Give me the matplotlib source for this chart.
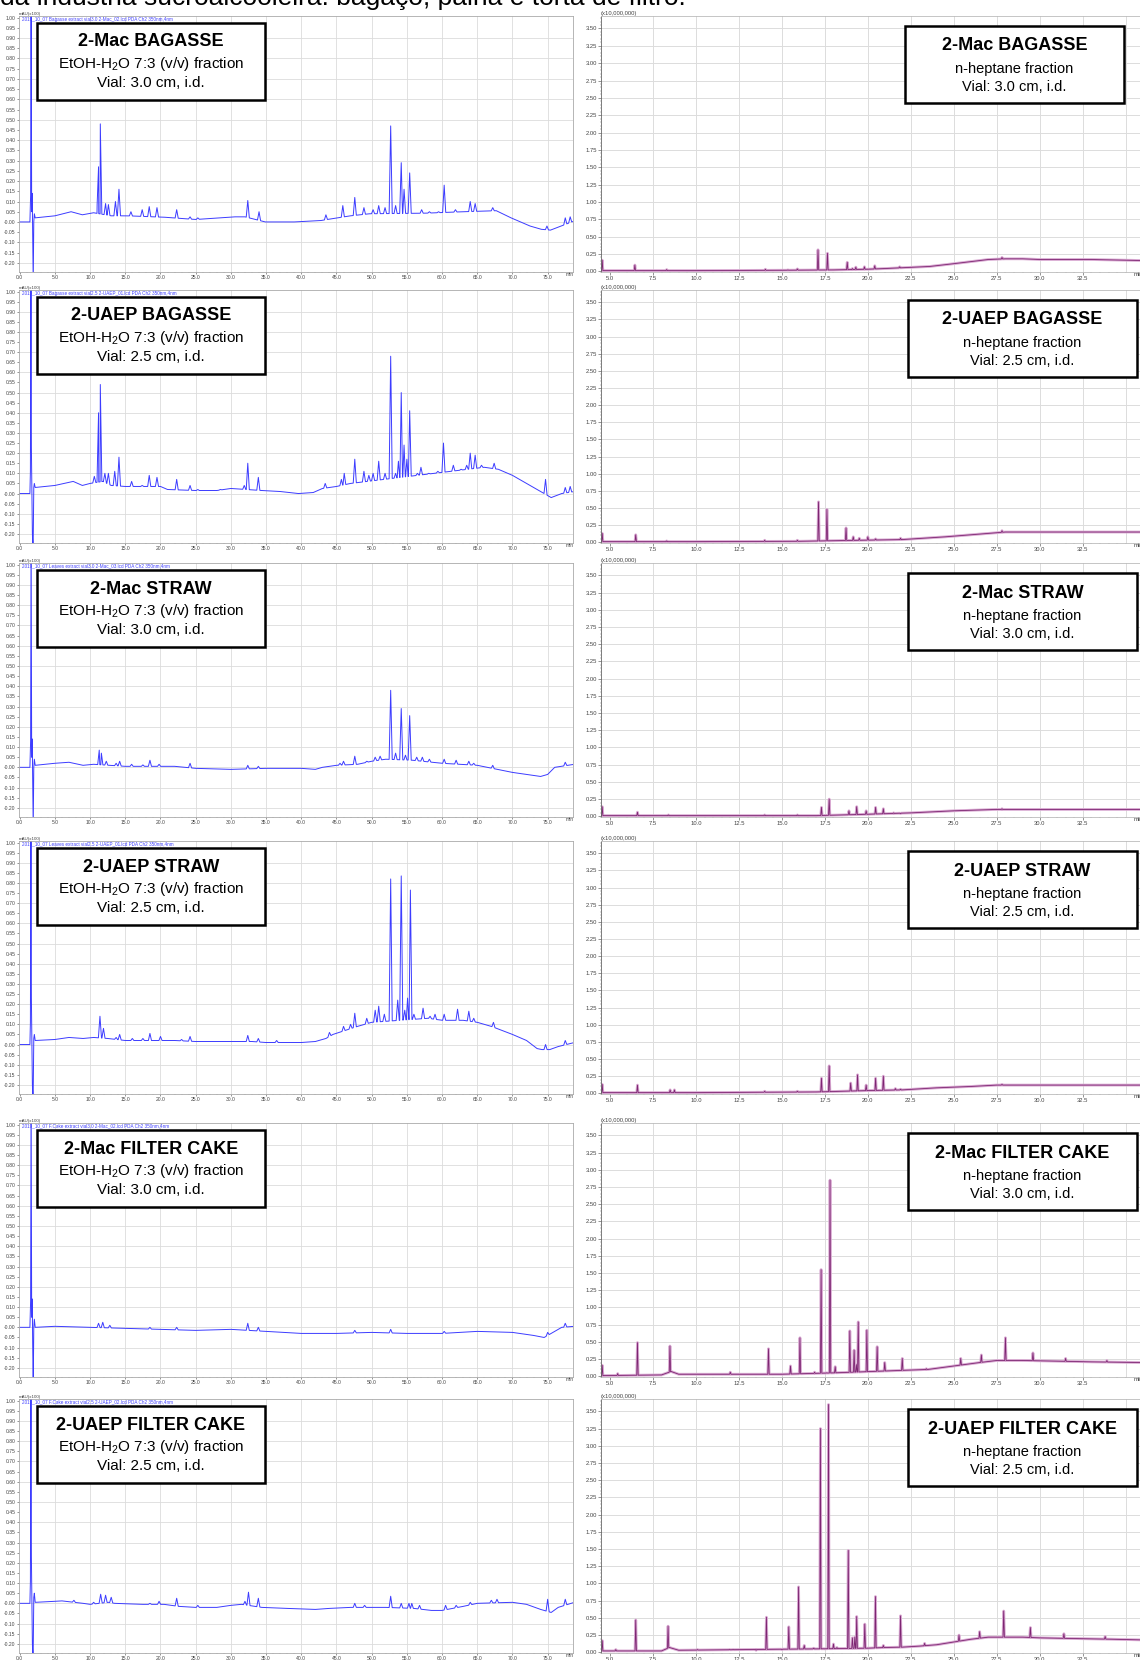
import numpy as np
import matplotlib
matplotlib.use("Agg")
import matplotlib.pyplot as plt
from matplotlib.patches import Rectangle
from matplotlib.ticker import MultipleLocator

plt.rcParams['font.family'] = ['Liberation Sans', 'DejaVu Sans']
plt.rcParams['mathtext.fontset'] = 'custom'
plt.rcParams['mathtext.rm'] = 'Liberation Sans'
plt.rcParams['mathtext.default'] = 'regular'

# ---- labels ----
samples = ["2-Mac BAGASSE", "2-UAEP BAGASSE", "2-Mac STRAW",
           "2-UAEP STRAW", "2-Mac FILTER CAKE", "2-UAEP FILTER CAKE"]
vials = ["3.0", "2.5", "3.0", "2.5", "3.0", "2.5"]
lc_files = ["2019_10_07 Bagasse extract vial3.0 2-Mac_02.lcd PDA Ch2 350nm,4nm",
            "2019_10_07 Bagasse extract vial2.5 2-UAEP_01.lcd PDA Ch2 350nm,4nm",
            "2019_10_07 Leaves extract vial3.0 2-Mac_03.lcd PDA Ch2 350nm,4nm",
            "2019_10_07 Leaves extract vial2.5 2-UAEP_01.lcd PDA Ch2 350nm,4nm",
            "2019_10_07 F.Cake extract vial3.0 2-Mac_02.lcd PDA Ch2 350nm,4nm",
            "2019_10_07 F.Cake extract vial2.5 2-UAEP_02.lcd PDA Ch2 350nm,4nm"]
lc_xticks = [0.0, 5.0, 10.0, 15.0, 20.0, 25.0, 30.0, 35.0, 40.0, 45.0, 50.0,
             55.0, 60.0, 65.0, 70.0, 75.0]
gc_xticks = [5.0, 7.5, 10.0, 12.5, 15.0, 17.5, 20.0, 22.5, 25.0, 27.5, 30.0, 32.5]

# ---- HPLC (left column): baseline knots (min, mAU x100) and peak tops ----
lc_front_1 = [(0, 0.0), (1.45, 0.0), (1.55, 0.13), (1.62, 1.2), (1.70, 0.05), (1.78, 0.14),
              (1.85, -0.10), (1.92, -0.30), (2.00, 0.0), (2.08, 0.04)]
lc_front_2 = [(0, 0.0), (1.45, 0.0), (1.52, 0.11), (1.60, 1.2), (1.66, 0.23), (1.72, 0.05),
              (1.80, -0.20), (1.90, -0.30), (2.00, 0.03), (2.08, 0.05)]

lc_bag_mac_base = [(2.2, 0.02), (5.0, 0.03), (7.3, 0.05), (8.9, 0.035), (10.5, 0.045), (12.0, 0.06),
                   (13.0, 0.03), (15.3, 0.03), (20.6, 0.023), (25.0, 0.012), (28.5, 0.015),
                   (30.6, 0.025), (32.0, 0.025), (34.9, 0.0), (39.0, 0.0), (42.8, 0.007),
                   (44.4, 0.016), (47.0, 0.03), (49.7, 0.04), (57.7, 0.043), (63.0, 0.05),
                   (67.7, 0.055), (69.8, 0.02), (72.5, -0.02), (74.1, -0.036), (75.4, -0.04),
                   (77.3, 0.005), (78.8, 0.005)]
lc_bag_mac_peaks = [(11.0, 0.085), (11.2, 0.27), (11.45, 0.48), (12.2, 0.09), (12.6, 0.085),
                    (13.6, 0.10), (14.1, 0.16), (15.8, 0.05), (17.4, 0.06), (18.4, 0.075),
                    (19.5, 0.07), (22.3, 0.06), (24.2, 0.025), (25.3, 0.02), (28.5, 0.02),
                    (32.4, 0.105), (34.0, 0.05), (43.5, 0.035), (45.9, 0.08), (47.6, 0.12),
                    (48.9, 0.07), (50.2, 0.06), (51.0, 0.08), (51.9, 0.07), (52.7, 0.47),
                    (53.4, 0.08), (54.2, 0.29), (54.6, 0.16), (55.4, 0.24), (57.1, 0.06),
                    (58.2, 0.05), (59.5, 0.05), (60.3, 0.18), (61.9, 0.06), (64.0, 0.10),
                    (64.7, 0.09), (67.2, 0.07), (74.9, -0.02), (77.5, 0.02), (78.2, 0.025)]

lc_bag_uaep_base = [(2.2, 0.03), (5.0, 0.04), (7.6, 0.06), (8.9, 0.04), (10.0, 0.05), (11.8, 0.06),
                    (13.0, 0.04), (15.0, 0.035), (17.0, 0.035), (20.0, 0.035), (21.0, 0.02),
                    (25.0, 0.015), (28.0, 0.015), (30.0, 0.025), (32.0, 0.03), (34.4, 0.015),
                    (37.0, 0.01), (39.6, 0.0), (41.7, 0.005), (43.0, 0.025), (45.0, 0.035),
                    (47.0, 0.05), (50.0, 0.07), (55.0, 0.09), (60.0, 0.10), (64.0, 0.12),
                    (66.0, 0.13), (68.0, 0.12), (70.0, 0.09), (72.0, 0.05), (74.0, 0.01),
                    (75.5, -0.02), (77.0, 0.0), (78.8, 0.01)]
lc_bag_uaep_peaks = [(10.6, 0.085), (11.2, 0.40), (11.45, 0.54), (12.1, 0.10), (12.6, 0.10),
                     (13.5, 0.11), (14.1, 0.18), (15.9, 0.06), (17.4, 0.04), (18.4, 0.09),
                     (19.5, 0.08), (22.3, 0.07), (24.2, 0.04), (25.3, 0.02), (28.5, 0.02),
                     (31.9, 0.04), (32.4, 0.15), (33.9, 0.08), (43.4, 0.05), (45.7, 0.07),
                     (46.1, 0.10), (47.6, 0.17), (48.9, 0.11), (49.6, 0.09), (50.2, 0.10),
                     (51.0, 0.16), (51.9, 0.10), (52.7, 0.68), (53.4, 0.10), (53.8, 0.16),
                     (54.2, 0.50), (54.6, 0.24), (55.0, 0.17), (55.4, 0.41), (56.5, 0.10),
                     (57.0, 0.13), (58.1, 0.10), (59.4, 0.11), (60.2, 0.25), (61.6, 0.14),
                     (62.7, 0.12), (63.5, 0.14), (64.0, 0.20), (64.7, 0.19), (65.6, 0.14),
                     (67.4, 0.15), (74.7, 0.07), (77.5, 0.03), (78.2, 0.035)]

lc_str_mac_base = [(2.2, 0.01), (5.0, 0.02), (7.0, 0.025), (9.0, 0.01), (10.5, 0.015), (12.5, 0.02),
                   (15.0, 0.005), (17.5, 0.01), (19.8, 0.01), (22.0, 0.005), (25.0, -0.005),
                   (30.0, -0.01), (35.0, -0.005), (40.0, -0.005), (42.0, -0.01), (43.0, 0.0),
                   (45.0, 0.01), (48.0, 0.015), (50.0, 0.03), (52.0, 0.04), (55.8, 0.035),
                   (60.0, 0.02), (65.0, 0.01), (70.0, -0.025), (73.0, -0.04), (74.0, -0.045),
                   (75.0, -0.035), (76.0, 0.0), (77.5, 0.01), (78.8, 0.015)]
lc_str_mac_peaks = [(11.3, 0.085), (11.6, 0.07), (12.3, 0.03), (13.7, 0.02), (14.2, 0.03),
                    (15.9, 0.015), (17.5, 0.012), (18.5, 0.035), (19.8, 0.015), (24.2, 0.02),
                    (32.4, 0.01), (33.9, 0.005), (45.5, 0.02), (46.0, 0.03), (47.6, 0.055),
                    (49.3, 0.03), (50.5, 0.05), (51.2, 0.055), (52.7, 0.38), (53.4, 0.07),
                    (54.2, 0.29), (54.8, 0.06), (55.4, 0.255), (56.4, 0.05), (57.2, 0.05),
                    (58.2, 0.04), (60.3, 0.04), (62.0, 0.035), (63.8, 0.03), (64.5, 0.02),
                    (67.2, 0.01), (77.5, 0.025)]

lc_str_uaep_base = [(2.2, 0.02), (5.0, 0.025), (7.0, 0.035), (9.0, 0.03), (10.5, 0.035),
                    (12.5, 0.03), (15.0, 0.02), (17.5, 0.03), (20.0, 0.03), (22.0, 0.02),
                    (25.0, 0.015), (30.0, 0.015), (33.0, 0.015), (35.0, 0.01), (40.0, 0.01),
                    (42.0, 0.015), (43.5, 0.03), (44.5, 0.05), (46.0, 0.07), (48.0, 0.09),
                    (50.0, 0.11), (52.0, 0.13), (55.8, 0.14), (58.0, 0.13), (60.0, 0.12),
                    (63.0, 0.12), (65.0, 0.11), (67.0, 0.09), (70.0, 0.05), (72.0, 0.02),
                    (73.5, -0.02), (74.2, -0.025), (75.3, -0.025), (76.5, -0.01),
                    (77.5, 0.005), (78.8, 0.01)]
lc_str_uaep_peaks = [(11.4, 0.14), (11.9, 0.08), (13.7, 0.035), (14.2, 0.05), (16.0, 0.03),
                     (17.5, 0.03), (18.5, 0.055), (20.0, 0.04), (23.0, 0.025), (24.2, 0.04),
                     (32.4, 0.045), (33.9, 0.03), (36.5, 0.02), (44.0, 0.06), (46.0, 0.09),
                     (47.0, 0.10), (47.6, 0.155), (49.3, 0.13), (50.5, 0.17), (51.0, 0.19),
                     (51.8, 0.15), (52.7, 0.82), (53.7, 0.22), (54.2, 0.835), (54.7, 0.17),
                     (55.1, 0.23), (55.5, 0.765), (56.0, 0.15), (57.3, 0.18), (58.3, 0.14),
                     (59.0, 0.15), (60.3, 0.15), (61.0, 0.12), (62.2, 0.175), (63.8, 0.165),
                     (64.5, 0.13), (67.3, 0.11), (74.7, 0.0), (77.5, 0.02)]

lc_cake_mac_base = [(2.2, 0.0), (5.0, 0.005), (10.0, 0.0), (15.0, -0.005), (20.0, -0.01),
                    (25.0, -0.015), (30.0, -0.01), (34.0, -0.02), (40.0, -0.03), (45.0, -0.03),
                    (50.0, -0.025), (55.0, -0.03), (60.0, -0.03), (65.0, -0.02), (70.0, -0.025),
                    (73.0, -0.04), (74.5, -0.05), (75.5, -0.03), (77.0, 0.0), (78.8, 0.005)]
lc_cake_mac_peaks = [(11.2, 0.02), (11.8, 0.025), (12.8, 0.01), (18.5, 0.0), (22.3, 0.0),
                     (32.4, 0.02), (33.9, 0.0), (47.6, -0.015), (52.7, -0.01), (60.3, -0.02),
                     (75.0, -0.025), (77.5, 0.02)]

lc_cake_uaep_base = [(2.2, 0.005), (5.0, 0.01), (6.0, 0.012), (9.0, 0.0), (10.0, -0.005),
                     (12.6, 0.005), (13.5, 0.0), (15.0, -0.002), (17.5, -0.005), (20.5, -0.005),
                     (22.6, -0.015), (25.0, -0.02), (28.0, -0.02), (30.0, -0.01), (31.5, -0.005),
                     (34.4, -0.02), (38.0, -0.025), (42.0, -0.03), (44.0, -0.025), (47.0, -0.02),
                     (52.0, -0.02), (56.0, -0.025), (58.5, -0.035), (60.0, -0.035),
                     (63.0, -0.015), (65.0, 0.0), (67.0, 0.01), (70.0, 0.005), (72.0, -0.005),
                     (74.0, -0.03), (75.5, -0.045), (76.5, -0.02), (77.5, 0.005), (78.8, 0.005)]
lc_cake_uaep_peaks = [(7.7, 0.015), (10.5, 0.005), (11.5, 0.045), (12.2, 0.04), (13.0, 0.03),
                      (18.5, 0.0), (19.8, 0.01), (22.3, 0.025), (25.3, -0.01), (32.0, 0.01),
                      (32.5, 0.055), (33.9, 0.025), (47.6, 0.0), (49.0, -0.01), (52.7, 0.035),
                      (54.2, 0.0), (55.3, 0.0), (55.7, 0.0), (56.8, -0.01), (60.5, -0.01),
                      (62.0, -0.01), (64.0, 0.005), (67.0, 0.015), (67.8, 0.02), (75.0, 0.02),
                      (77.5, 0.02)]

# ---- GC-MS TIC (right column): baseline knots (min, x10^7) and peak tops ----
gc_bag_mac_base = [(4.48, 0.01), (10.0, 0.01), (15.0, 0.015), (18.0, 0.02), (20.0, 0.03),
                   (21.0, 0.04), (22.3, 0.055), (23.6, 0.07), (25.0, 0.11), (26.0, 0.14),
                   (27.0, 0.17), (28.0, 0.18), (29.0, 0.18), (30.0, 0.17), (33.0, 0.17),
                   (36.0, 0.155)]
gc_bag_mac_peaks = [(4.55, 0.16), (6.45, 0.09), (8.3, 0.025), (14.04, 0.03), (15.35, 0.02),
                    (15.9, 0.035), (17.1, 0.31), (17.65, 0.26), (18.8, 0.13), (19.1, 0.04),
                    (19.3, 0.06), (19.8, 0.065), (20.4, 0.08), (21.85, 0.065), (27.8, 0.20)]

gc_bag_uaep_base = [(4.48, 0.01), (10.0, 0.01), (16.0, 0.015), (20.0, 0.02), (22.0, 0.04),
                    (24.5, 0.08), (26.5, 0.12), (28.0, 0.15), (30.0, 0.15), (36.0, 0.15)]
gc_bag_uaep_peaks = [(4.55, 0.13), (6.5, 0.11), (8.3, 0.02), (14.0, 0.03), (15.9, 0.03),
                     (17.13, 0.59), (17.62, 0.48), (18.73, 0.21), (19.15, 0.08), (19.5, 0.06),
                     (20.0, 0.08), (20.45, 0.05), (21.9, 0.06), (27.8, 0.17)]

gc_str_mac_base = [(4.48, 0.01), (10.0, 0.01), (17.0, 0.01), (20.0, 0.03), (22.5, 0.05),
                   (25.0, 0.08), (27.5, 0.10), (36.0, 0.10)]
gc_str_mac_peaks = [(4.55, 0.14), (6.6, 0.06), (8.4, 0.02), (14.0, 0.02), (15.9, 0.02),
                    (17.3, 0.13), (17.75, 0.25), (18.9, 0.08), (19.35, 0.14), (19.9, 0.08),
                    (20.45, 0.13), (20.9, 0.11), (21.5, 0.05), (21.9, 0.04), (27.8, 0.11)]

gc_str_uaep_base = [(4.48, 0.01), (10.0, 0.01), (17.0, 0.02), (20.0, 0.04), (22.0, 0.05),
                    (24.0, 0.08), (26.0, 0.10), (27.5, 0.12), (36.0, 0.12)]
gc_str_uaep_peaks = [(4.55, 0.13), (6.6, 0.12), (8.5, 0.05), (8.75, 0.05), (14.0, 0.03),
                     (15.9, 0.03), (17.3, 0.22), (17.75, 0.40), (19.0, 0.15), (19.4, 0.27),
                     (19.9, 0.12), (20.45, 0.22), (20.9, 0.25), (21.6, 0.07), (21.9, 0.06),
                     (27.8, 0.13)]

gc_cake_mac_base = [(4.48, 0.01), (8.0, 0.02), (8.56, 0.07), (9.0, 0.03), (12.0, 0.02),
                    (15.0, 0.03), (18.0, 0.05), (21.0, 0.07), (22.0, 0.08), (23.5, 0.10),
                    (25.0, 0.15), (26.5, 0.20), (27.5, 0.23), (29.0, 0.23), (31.0, 0.22),
                    (33.0, 0.21), (36.0, 0.20)]
gc_cake_mac_peaks = [(4.55, 0.16), (5.45, 0.04), (6.6, 0.49), (8.49, 0.44), (10.2, 0.03),
                     (12.0, 0.06), (13.2, 0.03), (14.22, 0.40), (15.5, 0.15), (16.05, 0.56),
                     (16.9, 0.06), (17.28, 1.55), (17.6, 0.05), (17.8, 2.85), (18.1, 0.14),
                     (18.95, 0.66), (19.2, 0.38), (19.33, 0.17), (19.44, 0.79), (19.94, 0.67),
                     (20.54, 0.43), (20.98, 0.20), (22.0, 0.26), (23.4, 0.11), (25.4, 0.26),
                     (26.6, 0.31), (28.0, 0.56), (29.6, 0.34), (31.5, 0.26), (33.9, 0.23)]

gc_cake_uaep_base = [(4.48, 0.02), (8.0, 0.02), (8.46, 0.07), (9.0, 0.03), (15.0, 0.03),
                     (17.0, 0.05), (20.0, 0.06), (21.0, 0.07), (22.0, 0.075), (23.0, 0.09),
                     (24.0, 0.11), (25.0, 0.15), (26.0, 0.19), (27.0, 0.22), (29.0, 0.22),
                     (30.0, 0.21), (32.0, 0.20), (34.2, 0.19), (36.0, 0.18)]
gc_cake_uaep_peaks = [(4.55, 0.17), (5.34, 0.04), (6.5, 0.47), (8.38, 0.38), (10.09, 0.04),
                      (11.95, 0.04), (12.16, 0.04), (13.15, 0.04), (13.5, 0.03), (14.1, 0.51),
                      (15.0, 0.04), (15.4, 0.37), (15.97, 0.95), (16.3, 0.10), (16.85, 0.06),
                      (17.24, 3.25), (17.5, 0.05), (17.71, 3.60), (18.0, 0.12), (18.2, 0.07),
                      (18.86, 1.48), (19.1, 0.21), (19.24, 0.22), (19.35, 0.52), (19.82, 0.41),
                      (20.44, 0.81), (20.9, 0.10), (21.9, 0.53), (23.3, 0.13), (25.3, 0.25),
                      (26.5, 0.30), (27.9, 0.60), (29.45, 0.36), (31.4, 0.27), (33.8, 0.23)]

lc_fronts = [lc_front_1, lc_front_2, lc_front_1, lc_front_2, lc_front_1, lc_front_2]
lc_bases = [lc_bag_mac_base, lc_bag_uaep_base, lc_str_mac_base,
            lc_str_uaep_base, lc_cake_mac_base, lc_cake_uaep_base]
lc_peaks = [lc_bag_mac_peaks, lc_bag_uaep_peaks, lc_str_mac_peaks,
            lc_str_uaep_peaks, lc_cake_mac_peaks, lc_cake_uaep_peaks]
gc_bases = [gc_bag_mac_base, gc_bag_uaep_base, gc_str_mac_base,
            gc_str_uaep_base, gc_cake_mac_base, gc_cake_uaep_base]
gc_peaks = [gc_bag_mac_peaks, gc_bag_uaep_peaks, gc_str_mac_peaks,
            gc_str_uaep_peaks, gc_cake_mac_peaks, gc_cake_uaep_peaks]


def build_trace(base, peaks, hw):
    # baseline polyline with a narrow triangle for every peak top
    bt, bv = np.array(base).T
    pt, pv = np.array(peaks).T
    keep = np.array([np.min(np.abs(pt - t)) > hw for t in bt])
    bt, bv = bt[keep], bv[keep]
    x = np.concatenate([bt, pt - hw, pt, pt + hw])
    y = np.concatenate([bv, np.interp(pt - hw, bt, bv), pv, np.interp(pt + hw, bt, bv)])
    o = np.argsort(x, kind='stable')
    return x[o], y[o]


W, H = 1140, 1660
fig = plt.figure(figsize=(W / 100, H / 100), dpi=100)

# cut-off caption line at the very top (only its lower half shows in the reference)
fig.text(0, 1 - 5 / H, "da indústria sucroalcooleira: bagaço, palha e torta de filtro.",
         fontsize=19, va='baseline', ha='left')

row_px = [(16, 272), (290, 543), (563, 817), (841, 1094), (1123, 1377), (1399, 1653)]
lc_color = '#3c3cff'
grid_c = '#dcdcdc'


def px_box(x0, y0, x1, y1):
    r = Rectangle((x0 / W, 1 - y1 / H), (x1 - x0) / W, (y1 - y0) / H,
                  transform=fig.transFigure, fc='white', ec='black', lw=1.8, zorder=10)
    fig.add_artist(r)


for i in range(6):
    top, bot = row_px[i]
    # ---------- left: HPLC ----------
    ax = fig.add_axes([19 / W, 1 - bot / H, 554 / W, (bot - top) / H])
    fx, fy = np.array(lc_fronts[i]).T
    x, y = build_trace(lc_bases[i], lc_peaks[i], 0.22)
    ax.plot(np.concatenate([fx, x]), np.concatenate([fy, y]), color=lc_color, lw=0.7)
    ax.set_xlim(-0.1, 78.6)
    ax.set_ylim(-0.245, 1.008)
    ax.set_xticks(lc_xticks)
    ax.set_xticklabels(["%.1f" % v for v in lc_xticks])
    yt = np.round(np.arange(-0.20, 1.001, 0.05), 2)
    ax.set_yticks(yt)
    ax.set_yticklabels(["%.2f" % v for v in yt])
    ax.tick_params(labelsize=3.6, length=1.5, width=0.4, pad=1, colors='#444444')
    ax.xaxis.set_minor_locator(MultipleLocator(1))
    ax.tick_params(which='minor', length=1, width=0.3, colors='#666666')
    for v in np.arange(5, 78, 5):
        ax.axvline(v, color=grid_c, lw=0.6, zorder=0)
    for v in np.arange(-0.2, 1.0, 0.1):
        ax.axhline(v, color=grid_c, lw=0.6, zorder=0)
    for s in ax.spines.values():
        s.set_color('#aaaaaa')
        s.set_linewidth(0.6)
    ax.text(78.2, -0.245, "min", fontsize=3.6, color='#444444', ha='center', va='top')
    ax.text(0.0, 1.0, "mAU(x100)", transform=ax.transAxes, fontsize=3.2,
            color='#444444', ha='left', va='bottom')
    ax.text(0.005, 0.997, lc_files[i], transform=ax.transAxes, fontsize=3.3,
            color='#4040ff', ha='left', va='top')

    bx0, bx1 = 37, 265
    by0 = top + 7
    px_box(bx0, by0, bx1, by0 + 77)
    cx = (bx0 + bx1) / 2 / W
    fig.text(cx, 1 - (by0 + 19) / H, samples[i], fontsize=13, fontweight='bold',
             ha='center', va='center', zorder=11)
    fig.text(cx, 1 - (by0 + 41) / H, "EtOH-H$_2$O 7:3 (v/v) fraction", fontsize=11,
             ha='center', va='center', zorder=11)
    fig.text(cx, 1 - (by0 + 60) / H, "Vial: %s cm, i.d." % vials[i], fontsize=11,
             ha='center', va='center', zorder=11)

    # ---------- right: GC-MS ----------
    ax2 = fig.add_axes([601 / W, 1 - bot / H, 542 / W, (bot - top) / H])
    x, y = build_trace(gc_bases[i], gc_peaks[i], 0.04)
    ax2.plot(x, y, color='#d9aad2', lw=2.0, solid_joinstyle='round')
    ax2.plot(x, y, color='#7d2572', lw=0.6)
    ax2.set_xlim(4.48, 36.0)
    ax2.set_ylim(-0.01, 3.68)
    ax2.set_xticks(gc_xticks)
    ax2.set_xticklabels(["%.1f" % v for v in gc_xticks])
    yt2 = np.round(np.arange(0, 3.501, 0.25), 2)
    ax2.set_yticks(yt2)
    ax2.set_yticklabels(["%.2f" % v for v in yt2])
    ax2.xaxis.set_minor_locator(MultipleLocator(0.5))
    ax2.yaxis.set_minor_locator(MultipleLocator(0.05))
    ax2.tick_params(labelsize=4.2, length=2, width=0.4, pad=1, colors='#444444')
    ax2.tick_params(which='minor', length=1, width=0.3, colors='#666666')
    for v in np.arange(7.5, 36, 2.5):
        ax2.axvline(v, color=grid_c, lw=0.7, zorder=0)
    for v in np.arange(0.25, 3.6, 0.25):
        ax2.axhline(v, color=grid_c, lw=0.7, zorder=0)
    for s in ax2.spines.values():
        s.set_color('#bbbbbb')
        s.set_linewidth(0.6)
    ax2.spines['left'].set_color('#666666')
    ax2.text(35.7, -0.01, "min", fontsize=4.2, color='#444444', ha='center', va='top')
    ax2.text(0.0, 1.0, "(x10,000,000)", transform=ax2.transAxes, fontsize=4.2,
             color='#444444', ha='left', va='bottom')

    rx0, rx1 = (905, 1124) if i == 0 else (908, 1137)
    ry0 = top + 10
    px_box(rx0, ry0, rx1, ry0 + 77)
    cx = (rx0 + rx1) / 2 / W
    fig.text(cx, 1 - (ry0 + 20) / H, samples[i], fontsize=13, fontweight='bold',
             ha='center', va='center', zorder=11)
    fig.text(cx, 1 - (ry0 + 43) / H, "n-heptane fraction", fontsize=10.5,
             ha='center', va='center', zorder=11)
    fig.text(cx, 1 - (ry0 + 61) / H, "Vial: %s cm, i.d." % vials[i], fontsize=10.5,
             ha='center', va='center', zorder=11)

fig.savefig("out.png", dpi=100)
